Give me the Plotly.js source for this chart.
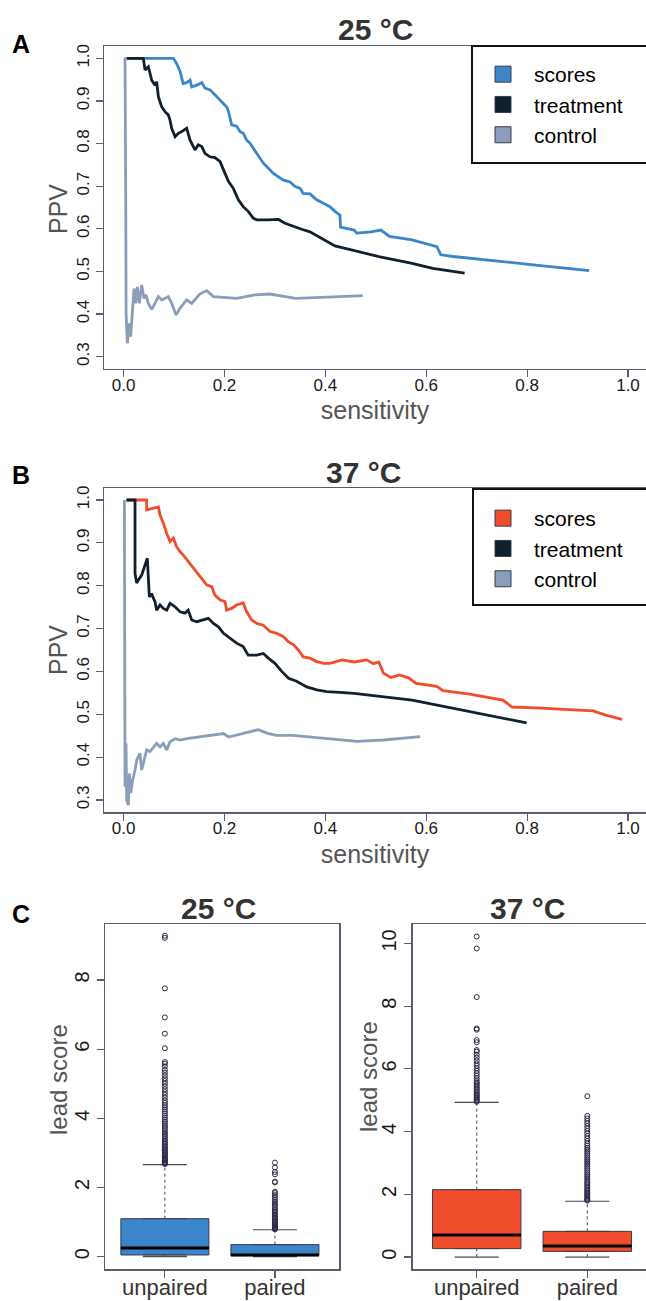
<!DOCTYPE html>
<html>
<head>
<meta charset="utf-8">
<script src="https://cdn.plot.ly/plotly-3.0.1.min.js"></script>
<style>html,body{margin:0;padding:0;background:#fff;}#chart{width:646px;height:1301px;}</style>
</head>
<body>
<div id="chart"></div>
<script>
// ---------- DATA ----------
var seriesNames = ['scores', 'treatment', 'control'];

// Panel A (25 °C): sensitivity vs PPV
var a_scores_x = [0.006,0.0986,0.105,0.112,0.118,0.125,0.1317,0.135,0.145,0.155,0.1613,0.1713,0.178,0.188,0.198,0.2045,0.208,0.2142,0.224,0.231,0.2373,0.244,0.2505,0.257,0.264,0.2706,0.277,0.287,0.297,0.307,0.317,0.330,0.340,0.350,0.356,0.3695,0.3827,0.396,0.409,0.419,0.429,0.430,0.457,0.462,0.490,0.510,0.527,0.572,0.621,0.629,0.653,0.817,0.923];
var a_scores_y = [1.0,1.0,0.988,0.969,0.941,0.943,0.949,0.933,0.937,0.943,0.930,0.926,0.918,0.906,0.894,0.886,0.875,0.844,0.841,0.828,0.824,0.808,0.801,0.789,0.777,0.765,0.754,0.742,0.730,0.722,0.714,0.710,0.699,0.695,0.683,0.682,0.668,0.660,0.652,0.641,0.632,0.604,0.597,0.590,0.593,0.597,0.582,0.574,0.558,0.539,0.535,0.515,0.502];
var a_treat_x = [0.006,0.039,0.0424,0.049,0.0523,0.0556,0.0622,0.0655,0.0689,0.0755,0.0821,0.0887,0.092,0.0953,0.102,0.1085,0.115,0.125,0.1317,0.1415,0.148,0.155,0.1613,0.171,0.181,0.191,0.201,0.208,0.2175,0.2275,0.237,0.247,0.257,0.264,0.284,0.307,0.320,0.337,0.353,0.3695,0.386,0.403,0.419,0.429,0.466,0.506,0.572,0.613,0.676];
var a_treat_y = [1.0,1.0,0.973,0.980,0.965,0.949,0.937,0.945,0.910,0.886,0.875,0.867,0.855,0.836,0.816,0.824,0.828,0.836,0.808,0.785,0.797,0.793,0.777,0.769,0.767,0.758,0.730,0.711,0.695,0.668,0.652,0.641,0.625,0.621,0.621,0.622,0.613,0.605,0.599,0.593,0.582,0.570,0.560,0.557,0.546,0.535,0.519,0.507,0.496];
var a_ctrl_x = [0.0016,0.0028,0.0042,0.0049,0.0074,0.0114,0.014,0.0173,0.0206,0.024,0.0272,0.0312,0.0358,0.0404,0.0444,0.049,0.0523,0.0556,0.0622,0.0689,0.0755,0.0821,0.0887,0.0953,0.104,0.112,0.125,0.135,0.151,0.165,0.178,0.224,0.2605,0.290,0.341,0.429,0.474];
var a_ctrl_y = [1.0,1.0,0.668,0.402,0.331,0.378,0.347,0.410,0.460,0.425,0.464,0.425,0.468,0.437,0.445,0.425,0.417,0.411,0.425,0.441,0.433,0.437,0.441,0.425,0.398,0.414,0.433,0.425,0.447,0.455,0.441,0.437,0.445,0.447,0.437,0.441,0.443];

// Panel B (37 °C)
var b_scores_x = [0.006,0.0259,0.0457,0.0457,0.069,0.0722,0.0788,0.0855,0.092,0.0986,0.105,0.112,0.118,0.1283,0.138,0.145,0.155,0.1647,0.1746,0.181,0.191,0.201,0.2043,0.2142,0.224,0.237,0.244,0.254,0.264,0.277,0.2903,0.3035,0.317,0.327,0.337,0.3464,0.356,0.3695,0.3827,0.396,0.409,0.433,0.457,0.482,0.495,0.506,0.515,0.530,0.547,0.565,0.580,0.621,0.633,0.686,0.752,0.770,0.817,0.931,0.956,0.988];
var b_scores_y = [1.0,1.0,1.0,0.977,0.984,0.965,0.946,0.922,0.903,0.911,0.891,0.879,0.872,0.856,0.841,0.833,0.817,0.802,0.798,0.778,0.767,0.763,0.743,0.747,0.755,0.760,0.739,0.720,0.712,0.708,0.693,0.689,0.681,0.669,0.662,0.650,0.634,0.631,0.623,0.619,0.619,0.627,0.622,0.627,0.618,0.622,0.596,0.586,0.592,0.585,0.572,0.565,0.555,0.547,0.533,0.517,0.515,0.508,0.498,0.488];
var b_treat_x = [0.0055,0.0226,0.0226,0.0259,0.0312,0.0358,0.0424,0.047,0.051,0.0556,0.059,0.0622,0.0655,0.0722,0.0788,0.0855,0.092,0.102,0.112,0.1217,0.128,0.135,0.145,0.158,0.168,0.178,0.188,0.198,0.211,0.224,0.237,0.247,0.264,0.277,0.287,0.300,0.3135,0.327,0.343,0.363,0.383,0.4027,0.429,0.457,0.572,0.653,0.735,0.799];
var b_treat_y = [1.0,1.0,0.829,0.806,0.817,0.825,0.848,0.864,0.774,0.782,0.771,0.763,0.743,0.755,0.747,0.743,0.759,0.751,0.739,0.736,0.743,0.720,0.716,0.720,0.724,0.712,0.704,0.689,0.677,0.666,0.658,0.638,0.638,0.642,0.631,0.619,0.600,0.584,0.577,0.564,0.557,0.553,0.551,0.549,0.533,0.514,0.496,0.480];
var b_ctrl_x = [0.0015,0.0015,0.0028,0.0048,0.0061,0.0094,0.0114,0.014,0.018,0.0226,0.0259,0.0325,0.0358,0.0424,0.0457,0.0523,0.059,0.0655,0.0722,0.0788,0.0855,0.092,0.102,0.112,0.125,0.138,0.158,0.1845,0.198,0.208,0.2275,0.247,0.267,0.287,0.3035,0.335,0.408,0.463,0.515,0.588];
var b_ctrl_y = [1.0,0.45,0.331,0.432,0.30,0.288,0.362,0.316,0.347,0.370,0.393,0.409,0.370,0.401,0.417,0.413,0.424,0.432,0.424,0.432,0.417,0.436,0.443,0.440,0.443,0.445,0.448,0.453,0.455,0.447,0.453,0.459,0.464,0.455,0.451,0.451,0.442,0.437,0.440,0.448];

var ppvTicks = [0.3,0.4,0.5,0.6,0.7,0.8,0.9,1.0];
var sensTicks = [0.0,0.2,0.4,0.6,0.8,1.0];

// Panel C: lead score boxplots
var boxCategories = ['unpaired', 'paired'];
var c25_q1 = [0.05, 0.03];
var c25_median = [0.25, 0.05];
var c25_q3 = [1.10, 0.35];
var c25_lowWhisker = [0, 0];
var c25_highWhisker = [2.66, 0.78];
var c25_unpaired_out = [2.68,2.70,2.72,2.75,2.78,2.80,2.83,2.86,2.90,2.93,2.96,3.00,3.03,3.07,3.10,3.14,3.18,3.22,3.26,3.30,3.35,3.40,3.45,3.50,3.55,3.60,3.66,3.72,3.78,3.84,3.90,3.96,4.02,4.08,4.14,4.20,4.26,4.32,4.38,4.45,4.52,4.60,4.68,4.76,4.84,4.92,5.00,5.08,5.16,5.24,5.32,5.40,5.50,5.58,5.63,6.03,6.45,6.92,7.76,9.22,9.28];
var c25_paired_out = [0.79,0.81,0.83,0.85,0.88,0.91,0.94,0.97,1.00,1.03,1.06,1.10,1.14,1.18,1.22,1.26,1.30,1.35,1.40,1.45,1.50,1.55,1.60,1.66,1.72,1.78,1.84,1.88,2.15,2.17,2.38,2.45,2.58,2.72];
var c37_q1 = [0.27, 0.18];
var c37_median = [0.70, 0.35];
var c37_q3 = [2.15, 0.82];
var c37_lowWhisker = [0, 0];
var c37_highWhisker = [4.93, 1.78];
var c37_unpaired_out = [4.95,4.98,5.02,5.06,5.10,5.14,5.18,5.22,5.27,5.32,5.37,5.42,5.47,5.52,5.57,5.62,5.70,5.78,5.86,5.94,6.02,6.10,6.18,6.27,6.36,6.45,6.55,6.60,6.85,6.92,7.25,7.29,8.29,9.84,10.22];
var c37_paired_out = [1.80,1.83,1.86,1.90,1.94,1.98,2.02,2.06,2.10,2.15,2.20,2.25,2.30,2.35,2.40,2.46,2.52,2.58,2.64,2.70,2.76,2.82,2.88,2.94,3.00,3.06,3.12,3.18,3.24,3.30,3.36,3.42,3.48,3.55,3.62,3.70,3.78,3.86,3.94,4.02,4.10,4.18,4.26,4.34,4.42,4.50,5.13];
var c25_ticks = [0,2,4,6,8];
var c37_ticks = [0,2,4,6,8,10];

// ---------- STYLE ----------
var BLUE = '#3a86c8', NAVY = '#10202f', GREY = '#8a9db9', RED = '#ef4d2c';
var FRAME = '#5c5c70';
var FONT = 'Liberation Sans, Arial, Helvetica, sans-serif';
var W = 646, H = 1301;
function px(x){ return x / W; }
function py(y){ return 1 - y / H; }

var traces = [];
function curve(x, y, color, xa, ya){
  traces.push({type:'scatter', mode:'lines', x:x, y:y, xaxis:xa, yaxis:ya,
    line:{color:color, width:2.8}, showlegend:false, hoverinfo:'skip'});
}
function legendEntry(name, color, leg){
  traces.push({type:'scatter', mode:'markers', x:[null], y:[null], name:name, legend:leg,
    marker:{symbol:'square', size:17, color:color, line:{color:'#3a3a4a', width:1}}, hoverinfo:'skip'});
}
// Panel A
curve(a_scores_x, a_scores_y, BLUE, 'x', 'y');
curve(a_treat_x, a_treat_y, NAVY, 'x', 'y');
curve(a_ctrl_x, a_ctrl_y, GREY, 'x', 'y');
legendEntry(seriesNames[0], BLUE, 'legend');
legendEntry(seriesNames[1], NAVY, 'legend');
legendEntry(seriesNames[2], GREY, 'legend');
// Panel B
curve(b_scores_x, b_scores_y, RED, 'x2', 'y2');
curve(b_treat_x, b_treat_y, NAVY, 'x2', 'y2');
curve(b_ctrl_x, b_ctrl_y, GREY, 'x2', 'y2');
legendEntry(seriesNames[0], RED, 'legend2');
legendEntry(seriesNames[1], NAVY, 'legend2');
legendEntry(seriesNames[2], GREY, 'legend2');

// Panel C boxes
function boxes(q1, med, q3, lo, hi, outs, fill, xa, ya){
  var pos = boxCategories.map(function(c, i){ return i + 1; });
  var wx = [], wy = [], sx = [], sy = [], mx = [], my = [];
  pos.forEach(function(p, i){
    wx.push(p, p, null, p, p, null); wy.push(q3[i], hi[i], null, lo[i], q1[i], null);
    sx.push(p - 0.2, p + 0.2, null, p - 0.2, p + 0.2, null); sy.push(hi[i], hi[i], null, lo[i], lo[i], null);
    mx.push(p - 0.4, p + 0.4, null); my.push(med[i], med[i], null);
  });
  traces.push({type:'scatter', mode:'lines', x:wx, y:wy, xaxis:xa, yaxis:ya, showlegend:false,
    line:{color:'#4a4a5a', width:1, dash:'dot'}, hoverinfo:'skip'});
  traces.push({type:'scatter', mode:'lines', x:sx, y:sy, xaxis:xa, yaxis:ya, showlegend:false,
    line:{color:'#4a4a5a', width:1.2}, hoverinfo:'skip'});
  traces.push({type:'box', x:pos, q1:q1, median:med, q3:q3, lowerfence:q1, upperfence:q3,
    width:0.8, fillcolor:fill, line:{color:'#3c3c50', width:1}, xaxis:xa, yaxis:ya,
    showlegend:false, hoverinfo:'skip', boxpoints:false});
  traces.push({type:'scatter', mode:'lines', x:mx, y:my, xaxis:xa, yaxis:ya, showlegend:false,
    line:{color:'#000', width:3}, hoverinfo:'skip'});
  var ox = [], oy = [];
  outs.forEach(function(arr, i){ arr.forEach(function(v){ ox.push(pos[i]); oy.push(v); }); });
  traces.push({type:'scatter', mode:'markers', x:ox, y:oy, xaxis:xa, yaxis:ya, showlegend:false,
    marker:{symbol:'circle-open', size:5, color:'#2a2a48', line:{width:1}}, hoverinfo:'skip'});
}
boxes(c25_q1, c25_median, c25_q3, c25_lowWhisker, c25_highWhisker, [c25_unpaired_out, c25_paired_out], BLUE, 'x3', 'y3');
boxes(c37_q1, c37_median, c37_q3, c37_lowWhisker, c37_highWhisker, [c37_unpaired_out, c37_paired_out], RED, 'x4', 'y4');

// ---------- LAYOUT ----------
function axisBase(){
  return {showline:true, mirror:true, linecolor:FRAME, linewidth:1.5, showgrid:false, zeroline:false,
    ticks:'outside', ticklen:7, tickwidth:1.2, tickcolor:FRAME, fixedrange:true};
}
function sensAxis(anchor){
  var a = axisBase();
  a.anchor = anchor; a.domain = [px(104), 1]; a.range = [-0.0389, 1.0357];
  a.tickvals = sensTicks; a.tickformat = '.1f'; a.ticklabelstandoff = -7;
  a.tickfont = {family:FONT, size:17, color:'#1a1a1a'};
  a.title = {text:'sensitivity', font:{family:FONT, size:25, color:'#555'}, standoff:8};
  return a;
}
function ppvAxis(anchor, top, bottom){
  var a = axisBase();
  a.anchor = anchor; a.domain = [py(bottom), py(top)]; a.range = [0.272, 1.028];
  a.tickvals = ppvTicks; a.tickformat = '.1f'; a.tickangle = -90;
  a.tickfont = {family:FONT, size:17, color:'#1a1a1a'};
  return a;
}
function catAxis(anchor, left, right, range){
  var a = axisBase();
  a.anchor = anchor; a.domain = [px(left), Math.min(1, px(right))]; a.range = range;
  a.tickvals = boxCategories.map(function(c, i){ return i + 1; }); a.ticktext = boxCategories;
  a.ticklabelstandoff = -9;
  a.tickfont = {family:FONT, size:22, color:'#333'};
  return a;
}
function leadAxis(anchor, range, ticks){
  var a = axisBase();
  a.anchor = anchor; a.domain = [py(1269.3), py(924)]; a.range = range;
  a.tickvals = ticks; a.tickangle = -90;
  a.tickfont = {family:FONT, size:20, color:'#1a1a1a'};
  return a;
}

function legendBox(top){
  return {x:px(472), y:py(top), xanchor:'left', yanchor:'top', orientation:'v',
    bgcolor:'rgba(0,0,0,0)', borderwidth:0, itemwidth:52,
    font:{family:FONT, size:21, color:'#000'}, itemclick:false, itemdoubleclick:false};
}

function ann(text, x, y, size, color, angle){
  return {text:text, x:px(x), y:py(y), xref:'paper', yref:'paper', xanchor:'center', yanchor:'middle',
    showarrow:false, textangle:angle || 0, font:{family:FONT, size:size, color:color}};
}

var layout = {
  width:W, height:H, margin:{l:0, r:0, t:0, b:0},
  paper_bgcolor:'#fff', plot_bgcolor:'#fff', showlegend:true,
  font:{family:FONT},
  xaxis: sensAxis('y'),
  yaxis: ppvAxis('x', 46.4, 368.6),
  xaxis2: sensAxis('y2'),
  yaxis2: ppvAxis('x2', 488, 812),
  xaxis3: catAxis('y3', 105, 339.3, [0.456, 2.585]),
  yaxis3: leadAxis('x3', [-0.364, 9.62], c25_ticks),
  xaxis4: catAxis('y4', 412.7, 646, [0.421, 2.531]),
  yaxis4: leadAxis('x4', [-0.39, 10.62], c37_ticks),
  legend: legendBox(54),
  legend2: legendBox(498),
  shapes: [
    {type:'rect', xref:'paper', yref:'paper', x0:px(472), x1:1.02, y0:py(163), y1:py(46), line:{color:'#111', width:2}},
    {type:'rect', xref:'paper', yref:'paper', x0:px(473), x1:1.02, y0:py(605), y1:py(489), line:{color:'#111', width:2}}
  ],
  annotations: [
    ann('<b>A</b>', 21, 44, 25, '#000'),
    ann('<b>B</b>', 21, 475, 25, '#000'),
    ann('<b>C</b>', 21, 914, 25, '#000'),
    ann('<b>25 °C</b>', 376, 29, 30, '#333'),
    ann('<b>37 °C</b>', 364, 472, 30, '#333'),
    ann('<b>25 °C</b>', 218, 908, 30, '#333'),
    ann('<b>37 °C</b>', 527, 908, 30, '#333'),
    ann('PPV', 58, 209, 25, '#555', -90),
    ann('PPV', 58, 650, 25, '#555', -90),
    ann('lead score', 58, 1080, 24, '#555', -90),
    ann('lead score', 368, 1077, 24, '#555', -90)
  ]
};

Plotly.newPlot('chart', traces, layout, {displayModeBar:false, staticPlot:true});
</script>
</body>
</html>
